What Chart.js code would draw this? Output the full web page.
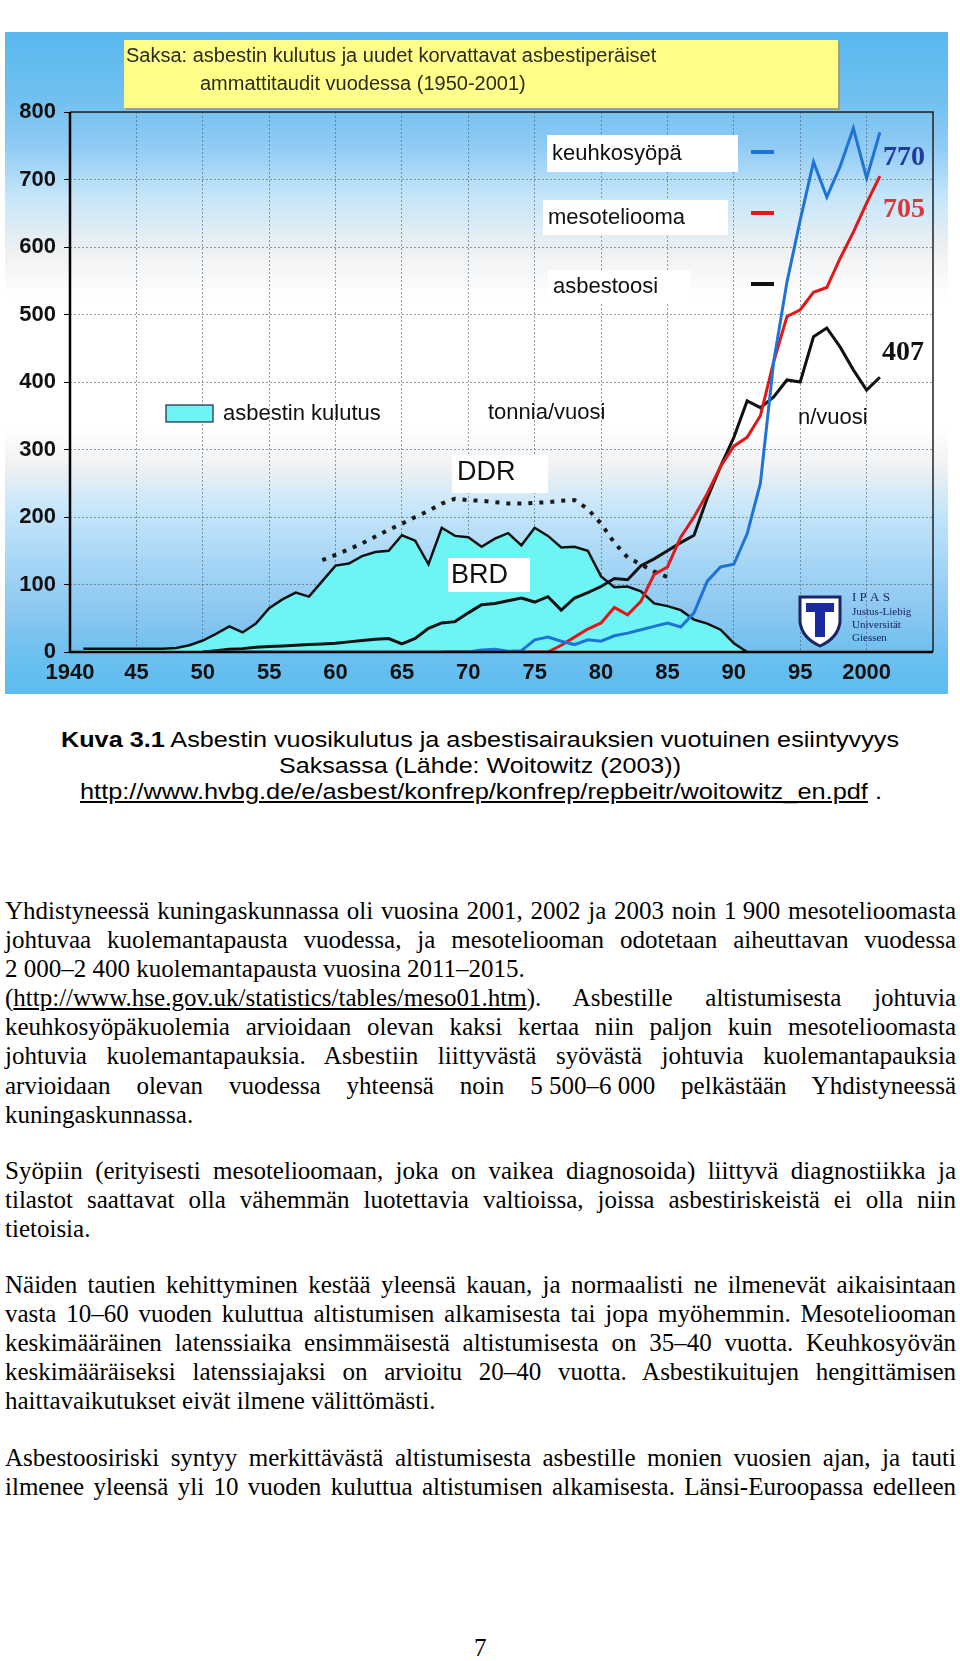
<!DOCTYPE html>
<html lang="fi">
<head>
<meta charset="utf-8">
<title>Saksa: asbestin kulutus ja ammattitaudit</title>
<script src="https://cdn.jsdelivr.net/npm/chart.js@4.4.1/dist/chart.umd.min.js"></script>
<style>
html, body { margin: 0; padding: 0; background: #fff; }
body { width: 960px; height: 1661px; position: relative; overflow: hidden; }
#kaavio { position: absolute; left: 0; top: 0; }
.kuva { position: absolute; font-family: "Liberation Sans", Arial, sans-serif; font-size: 22px; line-height: 25px; white-space: nowrap; width: max-content; transform-origin: 0 50%; }
.kpl { position: absolute; left: 5px; font-family: "Liberation Serif", "Times New Roman", serif; font-size: 25px; line-height: 29.1px; color: #000; }
.rivi { white-space: nowrap; width: max-content; transform-origin: 0 50%; }
.nro { word-spacing: 0; }
a { color: #000; text-decoration: underline; }
#sivu { position: absolute; left: 474px; top: 1634px; font-family: "Liberation Serif", serif; font-size: 25px; }
</style>
</head>
<body>

<canvas id="kaavio" width="960" height="700"></canvas>

<div class="kuva" style="left:61px; top:727px" data-w="838"><b>Kuva 3.1</b> Asbestin vuosikulutus ja asbestisairauksien vuotuinen esiintyvyys</div>
<div class="kuva" style="left:279px; top:753px" data-w="402">Saksassa (Lähde: Woitowitz (2003))</div>
<div class="kuva" style="left:80px; top:779px" data-w="802"><a>http://www.hvbg.de/e/asbest/konfrep/konfrep/repbeitr/woitowitz_en.pdf</a> .</div>

<div class="kpl" style="top:896px">
<div class="rivi j">Yhdistyneessä kuningaskunnassa oli vuosina 2001, 2002 ja 2003 noin <span class="nro">1&nbsp;900</span> mesotelioomasta</div>
<div class="rivi j">johtuvaa kuolemantapausta vuodessa, ja mesoteliooman odotetaan aiheuttavan vuodessa</div>
<div class="rivi"><span class="nro">2&nbsp;000–2&nbsp;400</span> kuolemantapausta vuosina 2011–2015.</div>
<div class="rivi j">(<a>http://www.hse.gov.uk/statistics/tables/meso01.htm</a>). Asbestille altistumisesta johtuvia</div>
<div class="rivi j">keuhkosyöpäkuolemia arvioidaan olevan kaksi kertaa niin paljon kuin mesotelioomasta</div>
<div class="rivi j">johtuvia kuolemantapauksia. Asbestiin liittyvästä syövästä johtuvia kuolemantapauksia</div>
<div class="rivi j">arvioidaan olevan vuodessa yhteensä noin <span class="nro">5&nbsp;500–6&nbsp;000</span> pelkästään Yhdistyneessä</div>
<div class="rivi">kuningaskunnassa.</div>
</div>

<div class="kpl" style="top:1156px">
<div class="rivi j">Syöpiin (erityisesti mesotelioomaan, joka on vaikea diagnosoida) liittyvä diagnostiikka ja</div>
<div class="rivi j">tilastot saattavat olla vähemmän luotettavia valtioissa, joissa asbestiriskeistä ei olla niin</div>
<div class="rivi">tietoisia.</div>
</div>

<div class="kpl" style="top:1270px">
<div class="rivi j">Näiden tautien kehittyminen kestää yleensä kauan, ja normaalisti ne ilmenevät aikaisintaan</div>
<div class="rivi j">vasta 10–60 vuoden kuluttua altistumisen alkamisesta tai jopa myöhemmin. Mesoteliooman</div>
<div class="rivi j">keskimääräinen latenssiaika ensimmäisestä altistumisesta on 35–40 vuotta. Keuhkosyövän</div>
<div class="rivi j">keskimääräiseksi latenssiajaksi on arvioitu 20–40 vuotta. Asbestikuitujen hengittämisen</div>
<div class="rivi">haittavaikutukset eivät ilmene välittömästi.</div>
</div>

<div class="kpl" style="top:1443px">
<div class="rivi j">Asbestoosiriski syntyy merkittävästä altistumisesta asbestille monien vuosien ajan, ja tauti</div>
<div class="rivi j">ilmenee yleensä yli 10 vuoden kuluttua altistumisen alkamisesta. Länsi-Euroopassa edelleen</div>
</div>

<div id="sivu">7</div>

<script>

/* DATA */

const xArvot = [1940, 1945, 1950, 1955, 1960, 1965, 1970, 1975, 1980, 1985, 1990, 1995, 2000];
const xTikit = ['1940', '45', '50', '55', '60', '65', '70', '75', '80', '85', '90', '95', '2000'];
const yArvot = [0, 100, 200, 300, 400, 500, 600, 700, 800];
const yTikit = ['0', '100', '200', '300', '400', '500', '600', '700', '800'];

// asbestin kulutus BRD (1000 t/vuosi), 1941-1991
const kulutusAlku = 1941;
const kulutus = [5, 5, 5, 5, 5, 5, 5, 6, 10, 17,
    27, 38, 29, 42, 65, 78, 88, 82, 105, 128,
    131, 142, 148, 150, 173, 165, 130, 184, 172, 170,
    156, 168, 176, 158, 184, 172, 155, 156, 150, 112,
    96, 97, 90, 72, 68, 62, 48, 42, 33, 13,
    0];

// DDR (pisteviiva), 1959-1985
const ddrAlku = 1959;
const ddr = [136, 144, 152, 161, 171, 181, 190, 200, 209, 220,
    227, 225, 224, 222, 220, 220, 221, 222, 224, 225,
    212, 190, 162, 140, 130, 119, 111];

// asbestoosi (n/vuosi), 1950-2001
const asbestoosiAlku = 1950;
const asbestoosi = [0, 2, 4, 5, 7, 8, 9, 10, 11, 12,
    13, 15, 17, 19, 20, 12, 20, 35, 43, 45,
    58, 70, 72, 76, 80, 74, 82, 62, 80, 88,
    97, 109, 107, 128, 138, 150, 162, 173, 228, 275,
    318, 372, 362, 378, 403, 400, 467, 480, 452, 418,
    388, 407];

// mesoteliooma (n/vuosi), 1968-2001
const mesoAlku = 1968;
const mesoteliooma = [0, 0, 0, 0, 0, 0, 0, 0, 0,
    10, 22, 34, 43, 66, 55, 75, 115, 126, 170,
    200, 235, 275, 305, 318, 350, 430, 497, 507, 533,
    540, 583, 622, 665, 705];

// keuhkosyöpä (n/vuosi), 1950-2001
const keuhkoAlku = 1950;
const keuhkosyopa = [0, 0, 0, 0, 0, 0, 0, 0, 0, 0,
    0, 0, 0, 0, 0, 0, 0, 0, 0, 0,
    0, 3, 4, 1, 2, 18, 22, 16, 11, 18,
    16, 24, 28, 33, 38, 43, 37, 58, 105, 126,
    130, 175, 250, 430, 548, 640, 726, 674, 719, 776,
    702, 770];

function pisteet(alku, arvot){
    return arvot.map((v, i) => ({ x: alku + i, y: v }));
}

/* TAUSTA */

const tausta = {
    id: 'tausta',
    beforeDraw(chart){
        const ctx = chart.ctx;
        const g = ctx.createLinearGradient(0, 32, 0, 694);
        g.addColorStop(0.00, '#58b8ee');
        g.addColorStop(0.10, '#70c0f0');
        g.addColorStop(0.17, '#8ecaf4');
        g.addColorStop(0.25, '#c6e6fa');
        g.addColorStop(0.33, '#eef0f2');
        g.addColorStop(0.40, '#ffffff');
        g.addColorStop(0.60, '#ffffff');
        g.addColorStop(0.66, '#eef0f2');
        g.addColorStop(0.72, '#c6e6fa');
        g.addColorStop(0.80, '#a6d6f6');
        g.addColorStop(0.87, '#8ec8f0');
        g.addColorStop(0.94, '#6cc0f0');
        g.addColorStop(1.00, '#5cbcf0');
        ctx.save();
        ctx.fillStyle = g;
        ctx.fillRect(5, 32, 943, 662);
        ctx.restore();
    }
};

/* MERKINNAT */

function laatikko(ctx, x, y, w, h, vari){
    ctx.fillStyle = vari;
    ctx.fillRect(x, y, w, h);
}

const merkinnat = {
    id: 'merkinnat',
    afterDraw(chart){
        const ctx = chart.ctx;
        const a = chart.chartArea;
        const ds = chart.data.datasets;
        ctx.save();

        // kehys
        ctx.strokeStyle = '#222';
        ctx.lineWidth = 1.5;
        ctx.beginPath();
        ctx.moveTo(a.left, a.top);
        ctx.lineTo(a.right, a.top);
        ctx.lineTo(a.right, a.bottom);
        ctx.stroke();
        ctx.strokeStyle = '#000';
        ctx.lineWidth = 2.5;
        ctx.beginPath();
        ctx.moveTo(a.left, a.top);
        ctx.lineTo(a.left, a.bottom);
        ctx.lineTo(a.right, a.bottom);
        ctx.stroke();

        // otsikko
        laatikko(ctx, 126, 42, 714, 68, '#a0a070');
        laatikko(ctx, 124, 40, 714, 68, '#ffff8a');
        ctx.fillStyle = '#2b2b20';
        ctx.font = '20px "Liberation Sans", Arial, sans-serif';
        ctx.textBaseline = 'alphabetic';
        ctx.textAlign = 'left';
        ctx.fillText('Saksa: asbestin kulutus ja uudet korvattavat asbestiperäiset', 126, 62);
        ctx.fillText('ammattitaudit vuodessa (1950-2001)', 200, 90);

        // selitteet
        ctx.font = '22px "Liberation Sans", Arial, sans-serif';
        ctx.textBaseline = 'middle';
        const selitteet = [
            { teksti: ds[0].label, x: 547, y: 135, w: 191, h: 37, vari: ds[0].borderColor, vy: 152 },
            { teksti: ds[1].label, x: 543, y: 200, w: 185, h: 35, vari: ds[1].borderColor, vy: 213 },
            { teksti: ds[2].label, x: 548, y: 270, w: 142, h: 33, vari: '#111', vy: 284 }
        ];
        selitteet.forEach(s => {
            laatikko(ctx, s.x, s.y, s.w, s.h, '#ffffff');
            ctx.fillStyle = '#111';
            ctx.fillText(s.teksti, s.x + 5, s.y + s.h / 2);
            ctx.strokeStyle = s.vari;
            ctx.lineWidth = 4;
            ctx.beginPath();
            ctx.moveTo(751, s.vy);
            ctx.lineTo(774, s.vy);
            ctx.stroke();
        });

        // kulutus-selite
        ctx.fillStyle = ds[4].backgroundColor;
        ctx.fillRect(166, 405, 47, 17);
        ctx.strokeStyle = '#224';
        ctx.lineWidth = 1.2;
        ctx.strokeRect(166, 405, 47, 17);
        ctx.fillStyle = '#111';
        ctx.fillText(ds[4].label, 223, 414);
        ctx.fillText('tonnia/vuosi', 488, 413);
        ctx.fillText('n/vuosi', 798, 418);

        // DDR / BRD
        laatikko(ctx, 452, 455, 96, 38, '#ffffff');
        laatikko(ctx, 448, 558, 82, 34, '#ffffff');
        ctx.fillStyle = '#111';
        ctx.font = '27px "Liberation Sans", Arial, sans-serif';
        ctx.fillText(ds[3].label, 457, 473);
        ctx.fillText('BRD', 451, 576);

        // loppuarvot
        ctx.font = 'bold 28px "Liberation Serif", serif';
        ctx.fillStyle = '#233b9a';
        ctx.fillText(String(keuhkosyopa[keuhkosyopa.length - 1]), 883, 158);
        ctx.fillStyle = '#d83838';
        ctx.fillText(String(mesoteliooma[mesoteliooma.length - 1]), 883, 210);
        ctx.fillStyle = '#111';
        ctx.fillText(String(asbestoosi[asbestoosi.length - 1]), 882, 353);

        // IPAS-logo
        ctx.beginPath();
        ctx.moveTo(800, 597);
        ctx.lineTo(840, 597);
        ctx.lineTo(840, 622);
        ctx.quadraticCurveTo(838, 638, 820, 646);
        ctx.quadraticCurveTo(802, 638, 800, 622);
        ctx.closePath();
        ctx.fillStyle = '#ffffff';
        ctx.fill();
        ctx.strokeStyle = '#1a2466';
        ctx.lineWidth = 3;
        ctx.stroke();
        ctx.fillStyle = '#1a2aa0';
        ctx.fillRect(806, 603, 28, 9);
        ctx.fillRect(815, 603, 10, 34);
        ctx.fillStyle = '#1a2466';
        ctx.font = '13px "Liberation Serif", serif';
        ctx.fillText('I P A S', 852, 598);
        ctx.font = '11px "Liberation Serif", serif';
        ctx.fillText('Justus-Liebig', 852, 612);
        ctx.fillText('Universität', 852, 625);
        ctx.fillText('Giessen', 852, 638);

        ctx.restore();
    }
};

/* KAAVIO */

const tikkiFontti = { family: '"Liberation Sans", Arial, sans-serif', size: 22, weight: 'bold' };

new Chart(document.getElementById("kaavio"), {

    type: 'line',

    data: {

        datasets: [{
            label: 'keuhkosyöpä',
            data: pisteet(keuhkoAlku, keuhkosyopa),
            borderColor: '#1e74d6',
            borderWidth: 3,
            pointRadius: 0,
            fill: false,
            order: 1
        }, {
            label: 'mesoteliooma',
            data: pisteet(mesoAlku, mesoteliooma),
            borderColor: '#e01818',
            borderWidth: 3,
            pointRadius: 0,
            fill: false,
            order: 2
        }, {
            label: 'asbestoosi',
            data: pisteet(asbestoosiAlku, asbestoosi),
            borderColor: '#111111',
            borderWidth: 3,
            pointRadius: 0,
            fill: false,
            order: 3
        }, {
            label: 'DDR',
            data: pisteet(ddrAlku, ddr),
            borderColor: '#1a1a1a',
            borderWidth: 4,
            borderDash: [4, 7],
            pointRadius: 0,
            fill: false,
            order: 4
        }, {
            label: 'asbestin kulutus',
            data: pisteet(kulutusAlku, kulutus),
            borderColor: '#111111',
            backgroundColor: '#6ef4f4',
            borderWidth: 2.5,
            pointRadius: 0,
            fill: 'origin',
            order: 5
        }]

    },

    options: {

        responsive: false,
        animation: false,

        layout: { padding: { top: 112, right: 27, left: 0, bottom: 0 } },

        plugins: {
            legend: { display: false },
            tooltip: { enabled: false }
        },

        scales: {
            x: {
                type: 'linear',
                min: 1940,
                max: 2005,
                afterBuildTicks: s => { s.ticks = xArvot.map(v => ({ value: v })); },
                afterFit: s => { s.height = 48; },
                ticks: {
                    callback: (v, i) => xTikit[i],
                    font: tikkiFontti,
                    color: '#111',
                    padding: 8,
                    maxRotation: 0,
                    autoSkip: false
                },
                grid: { color: 'rgba(70,80,95,0.55)', lineWidth: 1, drawTicks: false },
                border: { display: false, dash: [2, 2] }
            },
            y: {
                min: 0,
                max: 800,
                afterBuildTicks: s => { s.ticks = yArvot.map(v => ({ value: v })); },
                afterFit: s => { s.width = 70; },
                ticks: {
                    callback: (v, i) => yTikit[i],
                    font: tikkiFontti,
                    color: '#111',
                    padding: 8
                },
                grid: { color: 'rgba(70,80,95,0.55)', lineWidth: 1, drawTicks: true, tickLength: 6, tickColor: '#000' },
                border: { display: false, dash: [2, 2] }
            }
        }

    },

    plugins: [tausta, merkinnat]

});

/* TEKSTIRIVIT */

function sovitaRivit(){

    document.querySelectorAll(".kuva").forEach(k => {
        let leveys = k.getBoundingClientRect().width;
        k.style.transform = "scaleX(" + (Number(k.dataset.w) / leveys) + ")";
    });

    document.querySelectorAll(".rivi.j").forEach(r => {
        let leveys = r.getBoundingClientRect().width;
        let kopio = r.cloneNode(true);
        kopio.querySelectorAll(".nro").forEach(n => n.remove());
        let valit = (kopio.textContent.match(/ /g) || []).length;
        if (leveys < 951 && valit > 0) {
            r.style.wordSpacing = ((951 - leveys) / valit) + "px";
        } else if (leveys > 951) {
            r.style.transform = "scaleX(" + (951 / leveys) + ")";
        }
    });

}

sovitaRivit();

</script>
</body>
</html>
